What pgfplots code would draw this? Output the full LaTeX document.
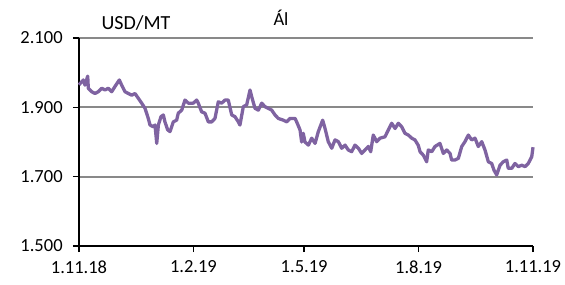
\documentclass[border=0pt]{standalone}
\usepackage{pgfplots}
\pgfplotsset{compat=1.18}
\usepackage{fontspec}
\setmainfont{Carlito}
\definecolor{linepurple}{HTML}{7F63A1}
\definecolor{gridgray}{HTML}{898989}
\begin{document}
\fontsize{18.5bp}{21bp}\selectfont
\begin{tikzpicture}
\path[use as bounding box] (0,0) rectangle (565bp,285bp);
\begin{axis}[
  at={(79bp,39bp)}, anchor=south west,
  scale only axis, width=454bp, height=208bp,
  xmin=0, xmax=365, ymin=1500, ymax=2100,
  axis lines=left, axis line style={-, line width=1.5bp, black},
  xtick={0,92,181,273,365},
  xticklabels={1.11.18,1.2.19,1.5.19,1.8.19,1.11.19},
  ytick={1500,1700,1900,2100},
  yticklabels={1.500,1.700,1.900,2.100},
  tick align=outside, major tick length=6bp,
  tick style={line width=1.5bp, black},
  ymajorgrids, grid style={line width=1.8bp, gridgray},
  ticklabel style={font=\fontsize{18.5bp}{21bp}\selectfont},
  xticklabel style={yshift=-2bp},
  yticklabel style={xshift=-4bp},
  clip=false,
]
\addplot[linepurple, line width=3.3bp, line join=round] coordinates {
(0,1965)(3.5,1979)(4.8,1964)(7,1990)(7.5,1955)(10.2,1945)(12.9,1940)(15.5,1945)
(18.3,1955)(20.9,1950)(23.6,1955)(26.3,1945)(28.9,1960)(32.4,1979)(34.3,1964)
(37,1945)(39.6,1940)(42.4,1935)(45,1940)(47.7,1926)(50.4,1912)(53.1,1897)
(55.7,1868)(57.1,1849)(59.7,1844)(61.1,1849)(62.5,1796)(63.8,1849)(65.9,1873)
(67.8,1878)(69.1,1858)(71.3,1835)(73.2,1830)(75.8,1858)(78.5,1863)(79.8,1883)
(82.6,1892)(85.2,1921)(87.9,1912)(90.6,1912)(91.9,1912)(94.6,1921)(95.9,1912)
(98.6,1887)(101.3,1883)(104,1858)(106.7,1858)(109.3,1868)(112,1916)(114.7,1912)
(117.4,1921)(120,1921)(122.8,1878)(125.4,1873)(128.1,1858)(129.4,1849)(132.1,1902)
(134.8,1907)(137.5,1950)(138.8,1931)(141.5,1897)(144.2,1892)(146.9,1912)(149.5,1902)
(152.2,1897)(154.9,1892)(157.6,1878)(160.2,1868)(164.3,1863)(167,1858)(169.6,1868)
(173.7,1868)(175,1858)(177.7,1835)(179,1800)(180.3,1825)(181.7,1800)(184.4,1791)
(187.1,1811)(189.8,1796)(192.4,1830)(195.9,1863)(197.8,1839)(200.4,1801)(203.2,1782)
(205.8,1806)(208.5,1801)(211.2,1782)(213.9,1791)(216.5,1777)(219.2,1772)(221.9,1791)
(224.6,1782)(227.3,1767)(229.9,1777)(232.6,1787)(234.5,1772)(236.6,1820)(239.3,1801)
(242,1811)(246,1815)(248.7,1835)(251.4,1854)(254.1,1839)(256.7,1854)(259.4,1844)
(262.1,1825)(264.8,1820)(267.5,1811)(270.1,1806)(272.8,1790)(274.2,1772)(276.8,1762)
(279.5,1743)(280.8,1777)(283.6,1772)(286.2,1787)(290.2,1796)(292.9,1767)(295.6,1777)
(298.3,1767)(299.6,1748)(302.3,1748)(305,1753)(307.7,1787)(310.3,1801)(313,1820)
(315.7,1806)(318.4,1811)(321,1787)(323.8,1801)(326.4,1777)(329.1,1743)(331.8,1738)
(333.6,1719)(335.8,1705)(338.5,1733)(341.1,1743)(343.9,1748)(345.1,1724)(347.9,1724)
(350.5,1738)(353.2,1729)(356,1733)(358.6,1729)(361.2,1738)(364,1758)(365,1785)
};
\end{axis}
\node[inner sep=0] at (281bp,267bp) {Ál};
\node[inner sep=0] at (136bp,262bp) {\fontsize{20bp}{22bp}\selectfont USD/MT};
\end{tikzpicture}
\end{document}
